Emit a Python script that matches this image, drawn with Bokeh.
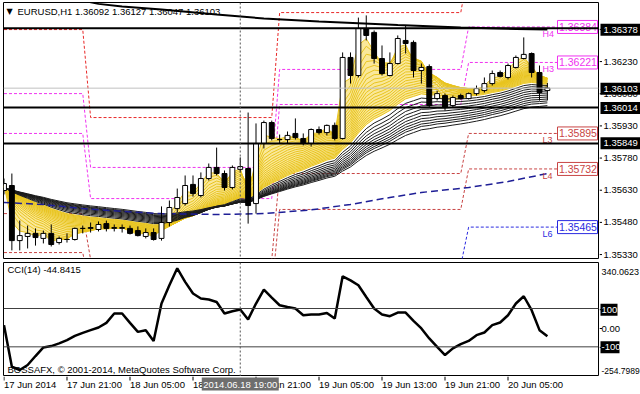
import numpy as np
from bokeh.plotting import figure
from bokeh.layouts import column, row
from bokeh.models import Range1d, Label, Span
from bokeh.core.properties import value
from bokeh.embed import file_html
from bokeh.resources import INLINE

# ---------------- data ----------------
bars = list(range(70))
opens = [1.35633,1.35656,1.35403,1.35422,1.35436,1.35413,1.35436,1.35394,1.35408,1.35408,
         1.35459,1.35459,1.35454,1.35481,1.35459,1.35459,1.35459,1.35449,1.35422,1.35440,
         1.35413,1.35486,1.35550,1.35573,1.35661,1.35610,1.35688,1.35739,1.35711,1.35647,
         1.35730,1.35734,1.35573,1.35849,1.35945,1.35867,1.35867,1.35895,1.35872,1.35849,
         1.35913,1.35899,1.35932,1.35872,1.36244,1.36161,1.36377,1.36359,1.36239,1.36161,
         1.36216,1.36322,1.36313,1.36184,1.36202,1.36055,1.36069,1.36023,1.36069,1.36055,
         1.36078,1.36092,1.36124,1.36175,1.36152,1.36198,1.36239,1.36262,1.36175,1.36092]
highs = [1.35688,1.35711,1.35495,1.35472,1.35459,1.35449,1.35477,1.35422,1.35436,1.35463,
         1.35472,1.35486,1.35491,1.35495,1.35477,1.35477,1.35472,1.35468,1.35459,1.35459,
         1.35560,1.35587,1.35642,1.35702,1.35702,1.35716,1.35757,1.35830,1.35725,1.35748,
         1.35785,1.35991,1.35941,1.35954,1.35954,1.35890,1.35904,1.35964,1.35895,1.35918,
         1.35927,1.35936,1.35945,1.36267,1.36267,1.36427,1.36437,1.36368,1.36299,1.36267,
         1.36345,1.36391,1.36322,1.36216,1.36212,1.36092,1.36078,1.36069,1.36078,1.36083,
         1.36115,1.36152,1.36184,1.36184,1.36216,1.36253,1.36336,1.36267,1.36207,1.36127]
lows = [1.35615,1.35358,1.35358,1.35367,1.35380,1.35390,1.35376,1.35385,1.35394,1.35403,
        1.35436,1.35440,1.35445,1.35445,1.35445,1.35440,1.35431,1.35422,1.35413,1.35403,
        1.35403,1.35468,1.35532,1.35564,1.35605,1.35601,1.35679,1.35702,1.35633,1.35638,
        1.35716,1.35481,1.35527,1.35826,1.35863,1.35849,1.35849,1.35867,1.35840,1.35835,
        1.35890,1.35886,1.35863,1.35867,1.36124,1.36152,1.36322,1.36216,1.36161,1.36157,
        1.36212,1.36262,1.36152,1.36124,1.36014,1.36046,1.36000,1.36014,1.36051,1.36051,
        1.36069,1.36083,1.36115,1.36152,1.36143,1.36193,1.36235,1.36152,1.36046,1.36047]
closes = [1.35665,1.35403,1.35426,1.35436,1.35417,1.35436,1.35385,1.35413,1.35408,1.35459,
          1.35459,1.35463,1.35477,1.35459,1.35463,1.35463,1.35436,1.35426,1.35440,1.35408,
          1.35486,1.35555,1.35601,1.35656,1.35619,1.35688,1.35739,1.35711,1.35647,1.35739,
          1.35743,1.35564,1.35849,1.35945,1.35872,1.35867,1.35886,1.35876,1.35849,1.35913,
          1.35899,1.35932,1.35872,1.36244,1.36161,1.36377,1.36345,1.36239,1.36170,1.36216,
          1.36331,1.36308,1.36184,1.36198,1.36023,1.36078,1.36014,1.36060,1.36055,1.36078,
          1.36101,1.36124,1.36170,1.36157,1.36207,1.36244,1.36258,1.36175,1.36083,1.36103]

cci = [13,-204,-221,-195,-148,-103,-96,-82,-65,-43,
       -27,-13,1,25,74,74,25,-22,-13,-70,
       126,221,310,239,178,152,147,134,74,86,
       95,43,126,199,157,117,108,100,65,69,
       69,77,48,268,247,221,160,100,69,60,
       79,79,35,-4,-56,-100,-143,-108,-86,-69,
       -39,-25,13,27,65,126,164,91,-13,-44.8415]

# moving-average ribbon (EMA periods) and its starting level
yellow_periods = list(range(2, 23))
black_periods = [24, 26, 28, 30, 32, 34, 36, 38, 40, 42, 45]
ribbon_start = 1.35645

# long moving averages
blue_bars = [0, 5, 10, 15, 20, 27, 33, 39, 44, 49, 53, 59, 64, 69]
blue_vals = [1.35578,1.35569,1.35550,1.35537,1.35527,1.35523,1.35527,1.35544,1.35569,1.35601,
             1.35624,1.35647,1.35674,1.35711]
ma_bars = [10, 12, 15, 20, 27, 33, 40, 50, 58, 65, 69]
ma_vals = [1.36505,1.36490,1.36478,1.36464,1.36441,1.36423,1.36409,1.36393,1.36382,1.36375,1.36372]

# daily Camarilla levels (17, 18, 19, 20 Jun)
day_start = [0, 11, 35, 59]
day_end = [10, 34, 58, 69]
lev_h5 = [1.36372, 1.35968, 1.36450, 1.36652]
lev_h4 = [1.36078, 1.35739, 1.36189, 1.36384]
lev_h3 = [1.35895, 1.35596, 1.36028, 1.36221]
lev_l3 = [1.35527, 1.35316, 1.35711, 1.35895]
lev_l4 = [1.35348, 1.35169, 1.35546, 1.35732]
lev_l5 = [1.35045, 1.34935, 1.35289, 1.35465]
tag_names = ["H4", "H3", "L3", "L4", "L6"]

hlines = [1.36378, 1.36014, 1.35849]
last_price = 1.36103
price_ticks = [1.35330, 1.35480, 1.35630, 1.35780, 1.35930, 1.36080, 1.36230, 1.36380]
cci_ticks = [100, 0, -100]
cci_tick_labels = ["100", "0.00", "-100"]
time_ticks = [0, 8, 16, 24, 32, 40, 48, 56, 64]
time_labels = ["17 Jun 2014", "17 Jun 21:00", "18 Jun 05:00", "18 Jun 13:00", "18 Jun 21:00",
               "19 Jun 05:00", "19 Jun 13:00", "19 Jun 21:00", "20 Jun 05:00"]
cross_bar = 30
cross_label = "2014.06.18 19:00"
title_text = "EURUSD,H1 1.36092 1.36127 1.36047 1.36103"
cci_title = "CCI(14) -44.8415"
copyright_text = "BOSSAFX, \u00a9 2001-2014, MetaQuotes Software Corp."
cci_max, cci_min = 340.0623, -254.7989

# ---------------- layout helpers ----------------
X0, X1 = -0.063, 75.49
PY0, PY1 = 1.353208, 1.364963
KP = (PY1 - PY0) / 256.0
KC = (cci_max - cci_min) / 114.0
FONT = "Liberation Sans"
FS = "9.5px"
MAGENTA, HRED, LRED, BLUE = "#f032f0", "#e82828", "#c84444", "#2a2ae0"

def px2x(px):
    return X0 + (px - 3) / 595.0 * (X1 - X0)

def py2p(py):
    return PY1 - (py - 2) * KP

def py2c(py):
    return cci_max - (py - 262) * KC

def ema(vals, period, seed):
    a = 2.0 / (period + 1)
    out, e = [], seed
    for v in vals:
        e = e + a * (v - e)
        out.append(e)
    return out

def bare(fig, outline=None):
    fig.grid.visible = False
    fig.outline_line_color = outline
    fig.background_fill_color = "white"
    fig.border_fill_color = "white"

def txt(fig, x, y, text, size=FS, color="black", align="left", font=FONT):
    fig.text(x=x, y=y, text=text, text_font=value(font), text_font_size=value(size),
             text_color=color, text_align=value(align), text_baseline=value("middle"))

xr = Range1d(X0, X1)
common = dict(output_backend="svg", toolbar_location=None,
              x_axis_location=None, y_axis_location=None)

# ---------------- main price pane ----------------
p1 = figure(width=599, height=260, x_range=xr, y_range=Range1d(PY0, PY1),
            min_border_left=3, min_border_right=1, min_border_top=2, min_border_bottom=2, **common)
bare(p1, "black")

LEVEL_END = px2x(557)
def level_xy(vals):
    xs, ys = [], []
    for d in range(len(vals)):
        xs += [day_start[d], day_end[d] if d < len(vals) - 1 else LEVEL_END]
        ys += [vals[d], vals[d]]
    return xs, ys

levels = [(lev_h5, HRED), (lev_h4, MAGENTA), (lev_h3, MAGENTA),
          (lev_l3, LRED), (lev_l4, LRED), (lev_l5, BLUE)]
for vals, col in levels:
    xs, ys = level_xy(vals)
    p1.line(xs, ys, line_color=col, line_width=1, line_dash="3 2")

for h in hlines:
    p1.add_layout(Span(location=h, dimension="width", line_color="black", line_width=2))
p1.add_layout(Span(location=last_price, dimension="width", line_color="#c0c0c0", line_width=1))

ye = [ema(closes, n, ribbon_start) for n in yellow_periods]
be = [ema(closes, n, ribbon_start) for n in black_periods]
p1.varea(x=bars, y1=ye[0], y2=ye[-1], fill_color="#fae89a")
for s in ye:
    p1.line(bars, s, line_color="#e8c420", line_width=1)
for s in be:
    p1.line(bars, s, line_color="#1c1c1c", line_width=1)

p1.line(blue_bars, blue_vals, line_color="#1e1e96", line_width=1.5, line_dash="7 4")
p1.line(ma_bars, ma_vals, line_color="black", line_width=2)

p1.add_layout(Span(location=cross_bar, dimension="height", line_color="#555555",
                   line_width=1, line_dash="2 2"))

o = np.array(opens); c = np.array(closes)
top = np.maximum(o, c); bot = np.minimum(o, c)
fill = ["white" if cc >= oo else "black" for oo, cc in zip(opens, closes)]
p1.segment(x0=bars, y0=lows, x1=bars, y1=highs, line_color="black", line_width=1)
p1.vbar(x=bars, top=top, bottom=bot, width=0.62, fill_color=fill, line_color="black", line_width=1)

# level tags and boxed values for the current day
tag_vals = [lev_h4[3], lev_h3[3], lev_l3[3], lev_l4[3], lev_l5[3]]
tag_cols = [MAGENTA, MAGENTA, LRED, LRED, BLUE]
p1.text(x=px2x(542), y=tag_vals, text=tag_names, text_font=value(FONT), text_font_size=value("9px"),
        text_color=tag_cols, text_align=value("left"), text_baseline=value("top"), y_offset=2)
p1.rect(x=px2x(577), y=tag_vals, width=40, height=13, width_units="screen", height_units="screen",
        fill_color="white", line_color=tag_cols, line_width=1)
txt(p1, px2x(558.5), tag_vals, ["%.5f" % v for v in tag_vals], size="10.5px", color=tag_cols)

p1.add_layout(Label(x=px2x(6), y=py2p(11), text="\u25bc", text_font="DejaVu Sans",
                    text_font_size="8px", text_color="black", text_baseline="middle"))
p1.add_layout(Label(x=px2x(17), y=py2p(11), text=title_text, text_font=FONT,
                    text_font_size=FS, text_color="black", text_baseline="middle"))

# price scale strip
s1 = figure(width=41, height=260, x_range=Range1d(599, 640),
            y_range=Range1d(PY0 - 2 * KP, PY1 + 2 * KP),
            min_border_left=0, min_border_right=0, min_border_top=0, min_border_bottom=0, **common)
bare(s1)
s1.segment(x0=599, x1=601.5, y0=price_ticks, y1=price_ticks, line_color="black", line_width=1)
txt(s1, 603, price_ticks, ["%.5f" % t for t in price_ticks])
tags = hlines + [last_price]
s1.rect(x=620.5, y=tags, width=41, height=12, height_units="screen", fill_color="black", line_color=None)
txt(s1, 603, tags, ["%.5f" % t for t in tags], color="white")

# ---------------- CCI pane ----------------
p2 = figure(width=599, height=116, x_range=xr, y_range=Range1d(cci_min, cci_max),
            min_border_left=3, min_border_right=1, min_border_top=2, min_border_bottom=0, **common)
bare(p2, "black")
for lv in [100, -100]:
    p2.add_layout(Span(location=lv, dimension="width", line_color="#404040", line_width=1))
p2.add_layout(Span(location=cross_bar, dimension="height", line_color="#555555",
                   line_width=1, line_dash="2 2"))
p2.line(bars, cci, line_color="black", line_width=2.5)
p2.add_layout(Label(x=px2x(7), y=py2c(269), text=cci_title, text_font=FONT,
                    text_font_size=FS, text_color="black", text_baseline="middle"))
p2.add_layout(Label(x=px2x(7), y=py2c(369), text=copyright_text, text_font=FONT,
                    text_font_size=FS, text_color="black", text_baseline="middle"))

s2 = figure(width=41, height=116, x_range=Range1d(599, 640),
            y_range=Range1d(cci_min, cci_max + 2 * KC),
            min_border_left=0, min_border_right=0, min_border_top=0, min_border_bottom=0, **common)
bare(s2)
s2.segment(x0=599, x1=601.5, y0=cci_ticks, y1=cci_ticks, line_color="black", line_width=1)
s2.rect(x=[608.5, 609.5], y=[100, -100], width=[17, 19], height=12, height_units="screen",
        fill_color="black", line_color=None)
txt(s2, 601, cci_ticks, cci_tick_labels, color=["white", "black", "white"])
txt(s2, 601, [py2c(270)], ["%.4f" % cci_max], size="9px")
txt(s2, 601, [py2c(370)], ["%.4f" % cci_min], size="8.5px")

# ---------------- time scale strip ----------------
p3 = figure(width=640, height=18, x_range=xr, y_range=Range1d(18, 0),
            min_border_left=3, min_border_right=42, min_border_top=0, min_border_bottom=0, **common)
bare(p3)
p3.segment(x0=time_ticks, x1=time_ticks, y0=0, y1=4, line_color="black", line_width=1)
txt(p3, time_ticks, 7.5, time_labels)
p3.rect(x=cross_bar, y=7.5, width=77, height=13, width_units="screen",
        fill_color="#6e6e6e", line_color=None)
txt(p3, [cross_bar], 7.5, [cross_label], color="white", align="center")

layout = column(row(p1, s1, spacing=0), row(p2, s2, spacing=0), p3, spacing=0)
open("out.html", "w").write(file_html(layout, INLINE))
